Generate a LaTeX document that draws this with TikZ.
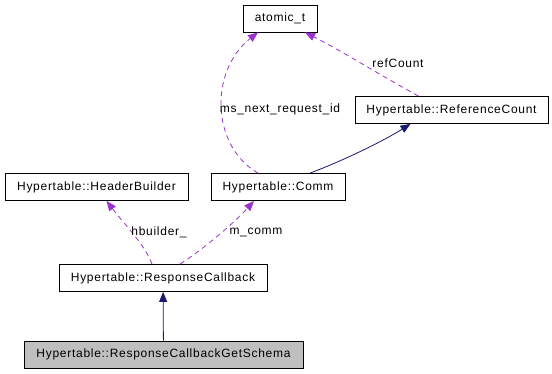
\documentclass[tikz,border=0pt]{standalone}
\usepackage{fontspec}
\usepackage{tikz}
\usetikzlibrary{arrows.meta,positioning}
\newfontfamily\dotfont{Liberation Sans}[LetterSpace=6]
\definecolor{inheritc}{HTML}{191970}
\definecolor{usagec}{HTML}{9A32CD}
\definecolor{focusfill}{HTML}{BFBFBF}
\tikzset{
  classbox/.style={draw,line width=0.8pt,fill=white,inner sep=0pt,minimum height=27pt,font=\dotfont\fontsize{12}{14}\selectfont},
  focusbox/.style={classbox,fill=focusfill},
  inherit/.style={-{Triangle[length=10pt,width=8pt]},line width=0.8pt,inheritc},
  usage/.style={-{Triangle[length=10pt,width=8pt]},line width=0.8pt,usagec,dash pattern=on 5pt off 4pt},
  edgelabel/.style={font=\dotfont\fontsize{12}{14}\selectfont,inner sep=1pt}
}

\begin{document}
\begin{tikzpicture}[x=1pt,y=-1pt]
  \useasboundingbox (0,0) rectangle (552,373);
  % classes
  \node[classbox,minimum width=74pt] (atomic) at (280,18.5) {atomic\_t};
  \node[classbox,minimum width=193pt] (refcount) at (451.5,110) {Hypertable::ReferenceCount};
  \node[classbox,minimum width=183pt] (header) at (96.5,187) {Hypertable::HeaderBuilder};
  \node[classbox,minimum width=134pt] (comm) at (278,187) {Hypertable::Comm};
  \node[classbox,minimum width=208pt] (respcb) at (163,278) {Hypertable::ResponseCallback};
  \node[focusbox,minimum width=279pt] (getschema) at (163.5,354.5) {Hypertable::ResponseCallbackGetSchema};

  % inheritance
  \draw[inherit] (getschema) -- (respcb);
  \draw[inherit] ([xshift=32pt]comm.north) .. controls (345,160) and (385,140) .. ([xshift=-41pt]refcount.south);

  % members
  \draw[usage] ([xshift=-11pt]respcb.north) .. controls (145,245) and (125,225) .. ([xshift=10pt]header.south);
  \draw[usage] ([xshift=17pt]respcb.north) .. controls (205,248) and (235,222) .. ([xshift=-24pt]comm.south);
  \draw[usage] ([xshift=-20pt]comm.north) .. controls (210,145) and (210,70) .. ([xshift=-22pt]atomic.south);
  \draw[usage] ([xshift=-33pt]refcount.north) .. controls (380,75) and (340,50) .. ([xshift=25pt]atomic.south);

  \node[edgelabel] (lhb) at (159,232) {hbuilder\_};
  \node[edgelabel] (lmc) at (256,232) {m\_comm};
  \node[edgelabel] (lms) at (280,109) {ms\_next\_request\_id};
  \node[edgelabel] (lrc) at (398,63) {refCount};
\end{tikzpicture}
\end{document}
